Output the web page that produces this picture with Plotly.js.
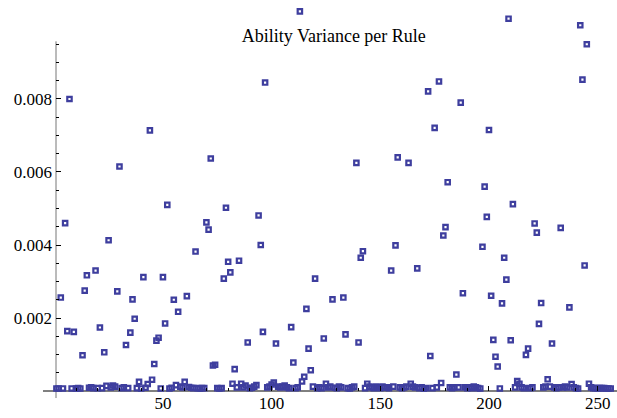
<!DOCTYPE html>
<html>
<head>
<meta charset="utf-8">
<script src="https://cdn.plot.ly/plotly-3.0.1.min.js"></script>
<style>html,body{margin:0;padding:0;background:#fff;}#chart{width:617px;height:418px;}</style>
</head>
<body>
<div id="chart"></div>
<script>
// Rule numbers (1..256) and the ability variance read for each rule
const rules = Array.from({length: 256}, (_, k) => k + 1);
const variance = [
  0.00007, 0.00007, 0.00256, 0.00007, 0.0046, 0.00164, 0.0080, 0.00007, 0.00162, 0.00007,
  0.00008, 0.00007, 0.00098, 0.00275, 0.00317, 0.00009, 0.00010, 0.00008, 0.0033, 0.00008,
  0.00174, 0.00008, 0.00106, 0.00014, 0.00413, 0.00010, 0.00015, 0.00012, 0.00273, 0.00615,
  0.00008, 0.00010, 0.00126, 0.00008, 0.0016, 0.00251, 0.00198, 0.00008, 0.00025, 0.00007,
  0.00312, 0.00009, 0.00019, 0.00714, 0.00031, 0.00074, 0.00138, 0.00146, 0.00007, 0.00312,
  0.00185, 0.0051, 0.00007, 0.00009, 0.0025, 0.00016, 0.00217, 0.00012, 0.00010, 0.00025,
  0.0026, 0.00011, 0.00009, 0.00008, 0.00382, 0.00008, 0.00007, 0.00008, 0.00008, 0.00462,
  0.00442, 0.00637, 0.00070, 0.00072, 0.00008, 0.00007, 0.00008, 0.00308, 0.00502, 0.00354,
  0.00325, 0.0002, 0.0006, 0.00010, 0.00357, 0.0002, 0.00010, 0.00015, 0.00133, 0.00008,
  0.00009, 0.00012, 0.00016, 0.00481, 0.0040, 0.00162, 0.00845, 0.00010, 0.00012, 0.00018,
  0.00023, 0.0013, 0.00012, 0.00010, 0.00012, 0.00015, 0.00010, 0.00008, 0.00175, 0.00078,
  0.00008, 0.00010, 0.0104, 0.00026, 0.00039, 0.00225, 0.00116, 0.00057, 0.00012, 0.00308,
  0.00008, 0.00010, 0.00008, 0.00144, 0.0002, 0.00010, 0.00012, 0.00251, 0.00009, 0.00008,
  0.00012, 0.00010, 0.00256, 0.00155, 0.00008, 0.00007, 0.00010, 0.00012, 0.00625, 0.00133,
  0.00365, 0.00383, 0.00008, 0.0002, 0.00012, 0.00010, 0.00008, 0.00012, 0.00010, 0.00008,
  0.00012, 0.00010, 0.00010, 0.00008, 0.0033, 0.00012, 0.00399, 0.0064, 0.00010, 0.00008,
  0.00010, 0.00012, 0.00625, 0.0002, 0.00012, 0.00010, 0.00336, 0.00008, 0.00010, 0.00007,
  0.00008, 0.00821, 0.00096, 0.00008, 0.00721, 0.00010, 0.00848, 0.00022, 0.00426, 0.00449,
  0.00572, 0.00010, 0.00008, 0.00010, 0.00045, 0.00010, 0.0079, 0.00268, 0.00010, 0.00008,
  0.00010, 0.00008, 0.00012, 0.00010, 0.00008, 0.00007, 0.00395, 0.0056, 0.00477, 0.00715,
  0.00261, 0.0014, 0.00094, 0.00067, 0.00007, 0.0024, 0.00365, 0.00305, 0.0102, 0.00139,
  0.00512, 0.00010, 0.00027, 0.0002, 0.00010, 0.00008, 0.00099, 0.00116, 0.00008, 0.00010,
  0.00459, 0.00434, 0.00184, 0.00241, 0.00010, 0.00012, 0.00032, 0.00012, 0.0013, 0.00010,
  0.00008, 0.00010, 0.00447, 0.00010, 0.00012, 0.00010, 0.00229, 0.00019, 0.00010, 0.00008,
  0.00007, 0.01002, 0.00853, 0.00344, 0.0095, 0.0002, 0.00010, 0.00008, 0.00008, 0.00008,
  0.00008, 0.00008, 0.00008, 0.00007, 0.00007, 0.00007
];
const xTickVals = [50, 100, 150, 200, 250];
const xTickText = ["50", "100", "150", "200", "250"];
const xMinorVals = [10, 20, 30, 40, 60, 70, 80, 90, 110, 120, 130, 140, 160, 170, 180, 190, 210, 220, 230, 240];
const yTickVals = [0.002, 0.004, 0.006, 0.008];
const yTickText = ["0.002", "0.004", "0.006", "0.008"];
const yMinorVals = [0.0005, 0.001, 0.0015, 0.0025, 0.003, 0.0035, 0.0045, 0.005, 0.0055, 0.0065, 0.007, 0.0075, 0.0085, 0.009, 0.0095];

const markColor = 'rgb(62,62,158)';
const font = {family: 'Liberation Serif', size: 17, color: '#000'};

const trace = {
  x: rules, y: variance, type: 'scatter', mode: 'markers', cliponaxis: false,
  marker: {symbol: 'square-open', size: 4.4, color: markColor, line: {color: markColor, width: 2.2}},
  hoverinfo: 'x+y'
};

const layout = {
  width: 617, height: 418,
  margin: {l: 56, r: 0, t: 0, b: 27, pad: 0},
  paper_bgcolor: '#fff', plot_bgcolor: '#fff',
  showlegend: false,
  font: font,
  title: {text: 'Ability Variance per Rule', font: {family: 'Liberation Serif', size: 18, color: '#000'},
          xref: 'container', yref: 'container', x: 0.541, y: 0.914, xanchor: 'center', yanchor: 'middle'},
  xaxis: {
    range: [0.8, 258.9], showgrid: false, zeroline: false, showline: false,
    tickmode: 'array', tickvals: xTickVals, ticktext: xTickText,
    ticks: 'inside', ticklen: 5, tickwidth: 1, tickcolor: '#000',
    tickfont: font,
    minor: {tickmode: 'array', tickvals: xMinorVals, ticks: 'inside', ticklen: 3, tickwidth: 1, tickcolor: '#000', showgrid: false}
  },
  yaxis: {
    range: [0, 0.010712], showgrid: false, zeroline: false, showline: false,
    tickmode: 'array', tickvals: yTickVals, ticktext: yTickText,
    ticks: 'inside', ticklen: 5, tickwidth: 1, tickcolor: '#000',
    tickfont: font, ticklabelstandoff: 3,
    minor: {tickmode: 'array', tickvals: yMinorVals, ticks: 'inside', ticklen: 3, tickwidth: 1, tickcolor: '#000', showgrid: false}
  },
  shapes: [
    {type: 'line', xref: 'paper', yref: 'paper', x0: -0.0232, x1: 1, y0: 0, y1: 0, line: {color: '#000', width: 1}, layer: 'below'},
    {type: 'line', xref: 'paper', yref: 'paper', x0: 0, x1: 0, y0: -0.018, y1: 0.8943, line: {color: '#777', width: 1}, layer: 'below'}
  ]
};

Plotly.newPlot('chart', [trace], layout, {displayModeBar: false, staticPlot: true});
</script>
</body>
</html>
